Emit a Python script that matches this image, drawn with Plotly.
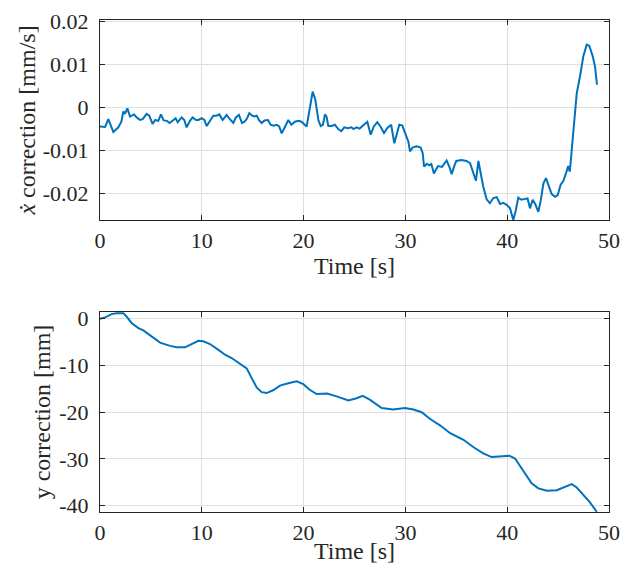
import plotly.graph_objects as go

# ---- data: top panel (x-dot correction, mm/s) ----
t_top = [0.0, 0.5, 0.82, 1.31, 1.8, 2.1, 2.29, 2.45, 2.69, 2.95, 3.34, 3.6, 3.93, 4.19, 4.58, 4.84,
         5.16, 5.43, 5.73, 5.99, 6.25, 6.58, 6.84, 7.17, 7.43, 7.63, 8.02, 8.28, 8.51, 8.84, 9.1,
         9.43, 9.66, 9.99, 10.25, 10.48, 10.8, 11.13, 11.45, 11.72, 12.05, 12.44, 12.71, 13.1,
         13.35, 13.65, 13.95, 14.2, 14.45, 14.67, 14.95, 15.18, 15.4, 15.6, 15.88, 16.15, 16.5,
         16.76, 17.05, 17.35, 17.6, 17.85, 18.1, 18.5, 18.8, 19.15, 19.5, 19.8, 20.3, 20.6, 20.89,
         21.15, 21.45, 21.68, 21.9, 22.1, 22.25, 22.43, 22.75, 23.07, 23.4, 23.7, 24.0, 24.35,
         24.7, 24.9, 25.2, 25.5, 25.87, 26.26, 26.59, 26.9, 27.24, 27.55, 27.9, 28.2, 28.6, 28.75,
         28.91, 29.15, 29.4, 29.7, 30.06, 30.3, 30.45, 30.7, 31.1, 31.5, 31.7, 31.83, 32.1, 32.35,
         32.55, 32.8, 33.2, 33.6, 33.8, 34.05, 34.33, 34.54, 34.8, 35.0, 35.5, 36.0, 36.35, 36.6,
         36.93, 37.17, 37.4, 37.65, 37.98, 38.3, 38.64, 38.97, 39.3, 39.6, 39.95, 40.28, 40.6,
         40.83, 41.09, 41.4, 41.74, 42.0, 42.24, 42.5, 42.75, 43.06, 43.3, 43.56, 43.81, 44.07,
         44.37, 44.7, 44.96, 45.25, 45.5, 45.77, 46.0, 46.15, 46.27, 46.5, 46.83, 47.15, 47.48,
         47.81, 48.07, 48.4, 48.63, 48.82]
v_top = [-0.0044, -0.0045, -0.0027, -0.0057, -0.0046, -0.0033, -0.0009, -0.0015, -0.0002, -0.0021,
         -0.0016, -0.0023, -0.0029, -0.0027, -0.0015, -0.0019, -0.0038, -0.0029, -0.0031, -0.0016,
         -0.0030, -0.0031, -0.0036, -0.0029, -0.0025, -0.0034, -0.0023, -0.0029, -0.0046, -0.0031,
         -0.0023, -0.0029, -0.0029, -0.0025, -0.0029, -0.0043, -0.0031, -0.0019, -0.0019, -0.0016,
         -0.0029, -0.0017, -0.0026, -0.0036, -0.0023, -0.0017, -0.0036, -0.0033, -0.0025, -0.0013,
         -0.0019, -0.0021, -0.0019, -0.0029, -0.0036, -0.0030, -0.0029, -0.0040, -0.0042, -0.0040,
         -0.0044, -0.0060, -0.0048, -0.0029, -0.0040, -0.0033, -0.0031, -0.0033, -0.0044, 0.0002,
         0.0037, 0.0018, -0.0029, -0.0043, -0.0040, -0.0016, -0.0021, -0.0043, -0.0043, -0.0040,
         -0.0050, -0.0055, -0.0046, -0.0048, -0.0046, -0.0050, -0.0046, -0.0049, -0.0040, -0.0033,
         -0.0063, -0.0044, -0.0034, -0.0044, -0.0059, -0.0048, -0.0040, -0.0060, -0.0083, -0.0062,
         -0.0040, -0.0042, -0.0067, -0.0080, -0.0102, -0.0093, -0.0090, -0.0093, -0.0106, -0.0137,
         -0.0131, -0.0134, -0.0131, -0.0153, -0.0136, -0.0138, -0.0131, -0.0123, -0.0138, -0.0155,
         -0.0136, -0.0124, -0.0122, -0.0124, -0.0129, -0.0148, -0.0170, -0.0124, -0.0158, -0.0184,
         -0.0213, -0.0222, -0.0210, -0.0208, -0.0224, -0.0221, -0.0226, -0.0234, -0.0261, -0.0240,
         -0.0209, -0.0214, -0.0212, -0.0211, -0.0234, -0.0214, -0.0224, -0.0242, -0.0215, -0.0176,
         -0.0164, -0.0180, -0.0201, -0.0207, -0.0203, -0.0179, -0.0171, -0.0153, -0.0136, -0.0149,
         -0.0114, -0.0044, 0.0033, 0.0072, 0.0119, 0.0146, 0.0143, 0.0119, 0.0095, 0.0053]

# ---- data: bottom panel (y correction, mm) ----
t_bot = [0.0, 0.5, 1.15, 1.6, 2.29, 2.6, 3.1, 3.77, 4.26, 5.07, 5.9, 6.88, 7.53, 8.35, 9.0, 9.66,
         10.15, 10.8, 11.6, 12.28, 12.93, 13.59, 14.41, 14.9, 15.39, 15.88, 16.37, 17.0, 17.68,
         18.5, 19.32, 19.97, 20.6, 21.28, 22.3, 23.25, 24.4, 25.2, 25.8, 26.5, 27.67, 28.8, 29.96,
         30.8, 31.6, 32.4, 33.4, 34.4, 35.7, 36.7, 37.65, 38.47, 39.29, 40.2, 40.77, 41.6, 42.4,
         43.06, 43.9, 44.87, 45.68, 46.34, 46.83, 47.48, 48.13, 48.8]
v_bot = [0.0, 0.3, 1.0, 1.2, 1.2, 0.5, -0.9, -2.0, -2.5, -3.8, -5.1, -5.8, -6.1, -6.1, -5.4, -4.7,
         -4.8, -5.4, -6.6, -7.7, -8.4, -9.3, -10.6, -12.7, -14.7, -15.7, -15.9, -15.3, -14.3, -13.8,
         -13.4, -14.0, -15.2, -16.1, -16.0, -16.6, -17.5, -17.0, -16.5, -17.3, -19.1, -19.4, -19.1,
         -19.4, -20.0, -21.4, -22.8, -24.5, -25.9, -27.5, -28.8, -29.6, -29.5, -29.3, -29.9, -32.7,
         -35.2, -36.3, -36.8, -36.7, -35.9, -35.4, -36.1, -37.7, -39.3, -41.3]

x_ticks = [0, 10, 20, 30, 40, 50]
top_ticks = [-0.02, -0.01, 0, 0.01, 0.02]
top_ticklabels = ["-0.02", "-0.01", "0", "0.01", "0.02"]
bot_ticks = [-40, -30, -20, -10, 0]
bot_ticklabels = ["-40", "-30", "-20", "-10", "0"]

LINE = "#0072BD"
AX = "#262626"
GRID = "#dfdfdf"
FONT = "Liberation Serif"
TICKF = dict(family=FONT, size=22, color=AX)
TITLEF = dict(family=FONT, size=24, color=AX)

fig = go.Figure()
fig.add_trace(go.Scatter(x=t_top, y=v_top, mode="lines", line=dict(color=LINE, width=2),
                         xaxis="x", yaxis="y", showlegend=False))
fig.add_trace(go.Scatter(x=t_bot, y=v_bot, mode="lines", line=dict(color=LINE, width=2),
                         xaxis="x2", yaxis="y2", showlegend=False))

fig.update_layout(
    width=620, height=556,
    margin=dict(l=92, r=19, t=12, b=52),
    paper_bgcolor="white", plot_bgcolor="white",
    font=dict(family=FONT, size=22, color=AX),
    xaxis=dict(domain=[0, 1], range=[0, 50], tickvals=x_ticks, anchor="y",
               title=dict(text="Time [s]", font=TITLEF, standoff=0)),
    yaxis=dict(domain=[0.5935, 1], range=[-0.0261, 0.0203], tickvals=top_ticks,
               ticktext=top_ticklabels, anchor="x",
               title=dict(text="<i>ẋ</i> correction [mm/s]", font=TITLEF, standoff=0)),
    xaxis2=dict(domain=[0, 1], range=[0, 50], tickvals=x_ticks, anchor="y2",
                title=dict(text="Time [s]", font=TITLEF, standoff=0)),
    yaxis2=dict(domain=[0, 0.4065], range=[-41.35, 1.45], tickvals=bot_ticks,
                ticktext=bot_ticklabels, anchor="x2",
                title=dict(text="y correction [mm]", font=TITLEF, standoff=1)),
)

axis_style = dict(showline=True, linecolor=AX, linewidth=1, mirror="ticks", ticks="inside",
                  ticklen=5, tickcolor=AX, showgrid=True, gridcolor=GRID, gridwidth=1,
                  zeroline=False, tickfont=TICKF, automargin=False)
fig.update_xaxes(**axis_style, ticklabelstandoff=1)
fig.update_yaxes(**axis_style, ticklabelstandoff=6)

fig.write_html("out.html")
